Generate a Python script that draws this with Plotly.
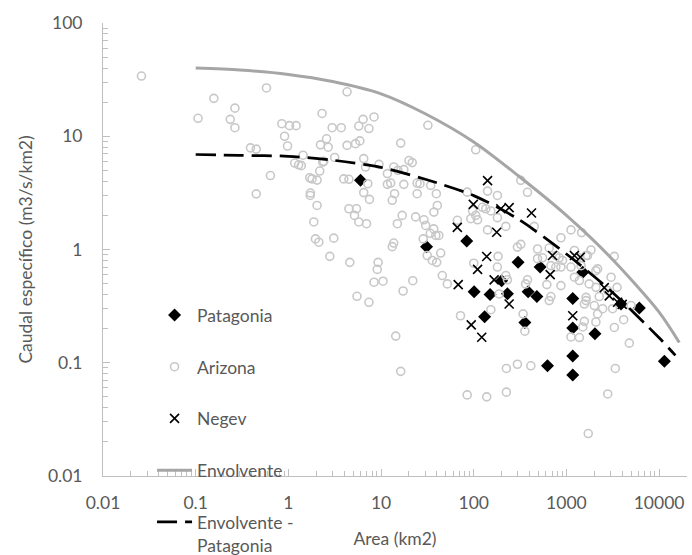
import plotly.graph_objects as go

# ---- data ----
pat_area = [6.0, 31, 84, 301, 200, 520, 101, 150, 231, 386, 480, 131, 356,
            1500, 1170, 1170, 2030, 1170, 1170, 625, 6120, 3880, 11400]
pat_q = [4.08, 1.06, 1.19, 0.77, 0.53, 0.70, 0.423, 0.40, 0.406, 0.423, 0.384, 0.255, 0.227,
         0.63, 0.37, 0.203, 0.18, 0.115, 0.078, 0.094, 0.305, 0.33, 0.103]

ari_area = [0.026, 0.58, 0.157, 0.265, 0.106, 0.236, 0.265, 0.85, 1.03, 1.21, 0.91, 0.98,
            0.39, 0.45, 1.17, 1.29, 1.38, 0.64, 0.45, 1.44,
            2.31, 2.58, 2.22, 2.69, 2.97, 3.72, 3.16, 2.41, 2.35, 2.18, 1.70, 1.8, 2.04,
            1.73, 1.72, 2.04, 1.88, 1.96, 2.13, 3.09, 2.8, 4.3, 4.3, 3.96, 4.5, 4.5, 4.6,
            6.4, 8.4, 5.75, 7.4, 16.3, 5.3, 5.9, 6.5, 6.8, 9.5, 13.7, 15.2, 17.6, 20, 21.7,
            11.7, 12.7, 11.7, 7.2, 17.6, 24.5, 6.5, 7.5, 14, 13.2, 24.5, 5.43, 5.17, 5.75,
            6.97, 16.9, 15, 23.6, 13.7, 13.2,
            9.3, 9.1, 8.4, 10.5, 5.5, 7.4, 17.3, 22, 14.4, 16.3,
            32, 105, 322, 380, 26.3, 34.3, 39.5, 85, 141, 180, 40.5, 37.2, 29, 30.3, 97,
            105, 93, 110, 124, 135, 153, 180, 66.5, 222, 141, 37, 34, 39, 42, 28.5, 296,
            322, 44, 31.5, 35.7, 39.8, 183, 100, 45.8, 51.9, 222, 231, 188, 380, 363, 488,
            72, 153, 341, 356, 225, 296, 413, 85, 138, 225,
            449, 1120, 1460, 873, 1840, 3290, 488, 652, 1220, 1630, 552, 769, 836, 908,
            680, 769, 873, 2170, 3030, 1220, 1380, 615, 873, 1760, 2080, 3520, 2790, 680,
            1630, 2260, 1120, 1320, 1440, 1690, 2080, 180,
            652, 1630, 2000, 2460, 3150, 1560, 4980, 2170, 2080, 1560, 1500, 1120, 1380,
            4150, 3290, 4770, 3370, 2790, 1720]
ari_q = [34, 26.7, 21.6, 17.7, 14.4, 14.1, 11.9, 12.9, 12.4, 12.4, 10, 8.2,
         7.9, 7.7, 5.8, 5.6, 5.5, 4.5, 3.1, 6.8,
         15.9, 9.5, 8.4, 8.0, 11.9, 11.9, 6.5, 6.0, 5.9, 4.93, 4.3, 4.2, 4.1,
         3.15, 3.0, 2.45, 1.75, 1.24, 1.16, 1.26, 0.87, 24.7, 8.3, 4.2, 4.17, 2.29, 0.77,
         14.1, 14.8, 12.3, 11.7, 8.7, 8.6, 9.1, 6.35, 5.35, 5.65, 5.35, 5.0, 5.07, 6.1, 5.85,
         4.68, 3.86, 3.76, 3.81, 3.76, 3.86, 3.18, 2.77, 3.11, 2.72, 3.11, 2.29, 2.0, 1.75,
         1.69, 2.0, 1.69, 1.94, 1.14, 1.06,
         0.77, 0.667, 0.514, 0.525, 0.386, 0.342, 0.43, 0.53, 0.172, 0.084,
         12.5, 7.6, 4.08, 3.2, 3.81, 3.68, 3.11, 3.21, 3.28, 3.0, 2.45, 2.14, 1.83, 1.63, 2.21,
         2.0, 1.87, 1.83, 2.36, 2.29, 2.19, 1.91, 1.81, 1.60, 1.49, 1.52, 1.39, 1.33, 1.33, 1.24, 1.05,
         1.11, 0.93, 0.885, 0.80, 0.77, 0.87, 0.757, 0.589, 0.497, 0.589, 0.54, 0.405, 0.54, 0.497, 0.83,
         0.26, 0.294, 0.27, 0.19, 0.089, 0.097, 0.094, 0.052, 0.050, 0.055,
         1.60, 1.49, 1.41, 1.27, 0.99, 0.87, 1.01, 1.03, 0.98, 0.885, 0.845, 0.885, 0.845, 0.80,
         0.72, 0.70, 0.70, 0.675, 0.569, 0.569, 0.532, 0.49, 0.48, 0.497, 0.463, 0.463, 0.434, 0.384,
         0.378, 0.384, 0.70, 0.855, 0.72, 0.885, 0.65, 0.70,
         0.354, 0.354, 0.32, 0.30, 0.30, 0.33, 0.32, 0.27, 0.229, 0.232, 0.207, 0.169, 0.167,
         0.24, 0.205, 0.149, 0.089, 0.053, 0.0237]

neg_area = [141, 99, 196, 241, 420, 66.5, 177, 138, 110, 166, 68, 241, 94, 122,
            708, 1220, 1410, 668, 1170, 2560, 2900, 3570, 4000]
neg_q = [4.06, 2.5, 2.29, 2.34, 2.1, 1.57, 1.42, 0.867, 0.667, 0.54, 0.49, 0.33, 0.216, 0.168,
         0.885, 0.885, 0.855, 0.60, 0.26, 0.46, 0.39, 0.342, 0.328]

env_area = [0.1, 0.3, 1, 3, 10, 30, 100, 300, 1000, 3000, 10000, 16500]
env_q = [40, 38.4, 35.1, 30.4, 23.7, 15.8, 8.9, 4.5, 2.0, 0.85, 0.28, 0.151]

envp_area = [0.1, 0.3, 1, 3, 10, 30, 100, 300, 1000, 3000, 10000, 15000]
envp_q = [6.9, 6.78, 6.65, 6.15, 5.31, 4.17, 2.99, 1.86, 0.912, 0.433, 0.166, 0.116]

FONT = "Lato"
TXT = "#595959"
AX = "#BFBFBF"

fig = go.Figure()
fig.add_trace(go.Scatter(x=pat_area, y=pat_q, mode="markers", name="Patagonia",
                         legendgroup="a",
                         marker=dict(symbol="diamond", size=10, color="black")))
fig.add_trace(go.Scatter(x=ari_area, y=ari_q, mode="markers", name="Arizona",
                         legendgroup="b",
                         marker=dict(symbol="circle-open", size=8, color="#C8C8C8",
                                     line=dict(width=1.6, color="#C8C8C8"))))
fig.add_trace(go.Scatter(x=neg_area, y=neg_q, mode="markers", name="Negev",
                         legendgroup="c",
                         marker=dict(symbol="x-thin-open", size=9, color="black",
                                     line=dict(width=1.6, color="black"))))
fig.add_trace(go.Scatter(x=env_area, y=env_q, mode="lines", name="Envolvente",
                         legendgroup="d", line_shape="spline",
                         line=dict(color="#A6A6A6", width=3, smoothing=0.8)))
fig.add_trace(go.Scatter(x=envp_area, y=envp_q, mode="lines", name="Envolvente -<br>Patagonia",
                         legendgroup="e", line_shape="spline",
                         line=dict(color="black", width=2.75, dash="20px,8px", smoothing=0.8)))

axis_common = dict(
    type="log", showgrid=False, zeroline=False,
    showline=True, linecolor=AX, linewidth=1,
    ticks="inside", ticklen=7, tickcolor=AX, tickwidth=1,
    dtick=1, tickformat="~g",
    minor=dict(ticks="inside", ticklen=5, tickcolor=AX, tickwidth=1, showgrid=False),
    tickfont=dict(family=FONT, size=17.5, color=TXT),
    mirror=False,
)

fig.update_xaxes(**axis_common, range=[-2, 4.301],
                 title=dict(text="Area (km2)", font=dict(family=FONT, size=17.5, color=TXT), standoff=20),
                 ticklabelstandoff=11)
fig.update_yaxes(**axis_common, range=[-2, 2],
                 title=dict(text="Caudal específico (m3/s/km2)", font=dict(family=FONT, size=17.5, color=TXT), standoff=10),
                 ticklabelstandoff=16)

fig.update_layout(
    width=692, height=555,
    margin=dict(l=103, r=5, t=23, b=79, autoexpand=False),
    paper_bgcolor="white", plot_bgcolor="white",
    font=dict(family=FONT, size=17.5, color=TXT),
    legend=dict(x=0.084, y=0.395, xanchor="left", yanchor="top",
                bgcolor="rgba(0,0,0,0)", traceorder="grouped", tracegroupgap=26,
                valign="top", itemwidth=35,
                font=dict(family=FONT, size=17.5, color=TXT)),
)

fig.write_html("out.html")
